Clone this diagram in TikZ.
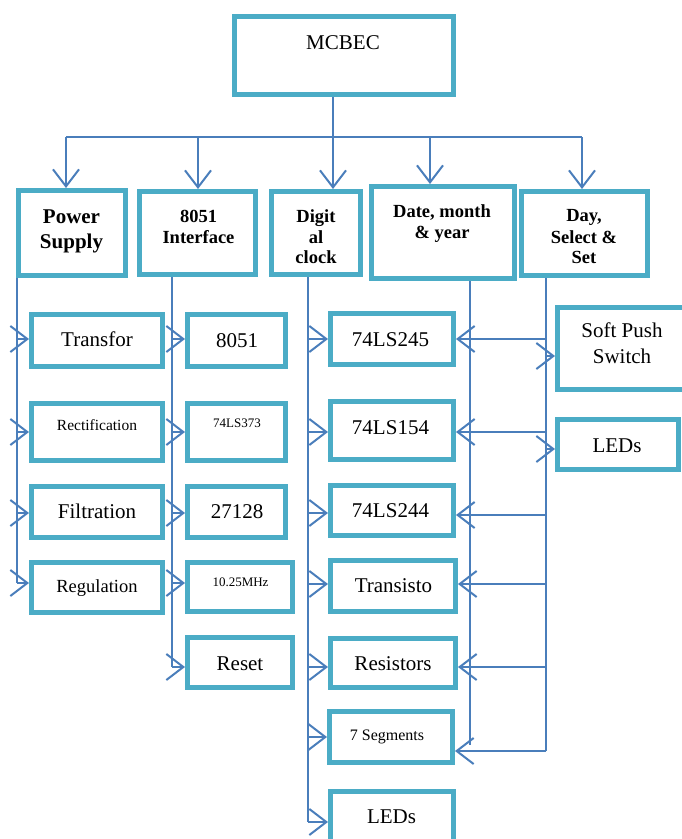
\documentclass[tikz,border=0pt]{standalone}
\usepackage{fontspec}
\setmainfont{Liberation Serif}
\usetikzlibrary{arrows.meta}
\definecolor{boxc}{HTML}{4BACC6}
\definecolor{linec}{HTML}{4A7EBB}
\tikzset{
  box/.style={draw=boxc, line width=5pt, inner sep=0pt},
  wire/.style={draw=linec, line width=2pt},
  arr/.style={wire, -{Straight Barb[length=17pt,width=26pt,line width=2pt]}},
  lbl/.style={anchor=base, inner sep=0pt, text=black},
  fA/.style={lbl, font=\fontsize{21}{24}\selectfont},
  fB/.style={lbl, font=\fontsize{21}{24}\selectfont\bfseries},
  fC/.style={lbl, font=\fontsize{18.5}{21}\selectfont\bfseries},
  fD/.style={lbl, font=\fontsize{18.5}{21}\selectfont},
  fE/.style={lbl, font=\fontsize{15.5}{18}\selectfont},
  fF/.style={lbl, font=\fontsize{13}{15}\selectfont},
  fG/.style={lbl, font=\fontsize{16}{18}\selectfont},
}
\newcommand\bx[5]{\node[box, minimum width={#4-#2-5}, minimum height={#5-#3-5}] (#1) at ({(#2+#4)/2},{(#3+#5)/2}) {};}
\begin{document}
\begin{tikzpicture}[x=1pt,y=-1pt]
\useasboundingbox (0,0) rectangle (681,839);
% ---- boxes
\bx{MCBEC}{232}{14}{456}{97}
\bx{Power}{16}{188}{128}{278}
\bx{Iface}{137}{189}{258}{277}
\bx{Clock}{269}{189}{363}{277}
\bx{Date}{369}{184}{517}{281}
\bx{Day}{519}{189}{650}{278}
% column 1
\bx{Transfor}{29}{312}{165}{369}
\bx{Rect}{29}{401}{165}{463}
\bx{Filt}{29}{484}{165}{540}
\bx{Regu}{29}{560}{165}{615}
% column 2
\bx{C8051}{185}{312}{288}{369}
\bx{C373}{185}{401}{288}{463}
\bx{C27128}{185}{484}{288}{540}
\bx{Osc}{185}{560}{295}{614}
\bx{Reset}{185}{635}{295}{690}
% column 3
\bx{L245}{328}{311}{456}{367}
\bx{L154}{328}{399}{456}{462}
\bx{L244}{328}{483}{456}{538}
\bx{Trans}{328}{558}{458}{614}
\bx{Resis}{328}{636}{458}{690}
\bx{Seg}{327}{709}{455}{765}
\bx{LedA}{328}{789}{456}{845}
% column 4
\bx{Soft}{555}{305}{690}{392}
\bx{LedB}{555}{417}{681}{472}
% ---- texts
\node[fA] (tM) at (343,49) {MCBEC};
\node[fB] (tP1) at (71.5,223) {Power};
\node[fB] (tP2) at (71.5,248) {Supply};
\node[fC] (tI1) at (198.5,222) {8051};
\node[fC] (tI2) at (198.5,243) {Interface};
\node[fC] (tC1) at (316,222) {Digit};
\node[fC] (tC2) at (316,243) {al};
\node[fC] (tC3) at (316,263) {clock};
\node[fC] (tD1) at (442,217) {Date, month};
\node[fC] (tD2) at (442,238) {\& year};
\node[fC] (tY1) at (584,221.5) {Day,};
\node[fC] (tY2) at (584,243) {Select \&};
\node[fC] (tY3) at (584,263) {Set};
\node[fA] (t1a) at (97,346.5) {Transfor};
\node[fE] (t1b) at (97,430) {Rectification};
\node[fA] (t1c) at (97,518) {Filtration};
\node[fD] (t1d) at (97,592) {Regulation};
\node[fA] (t2a) at (237,347) {8051};
\node[fF] (t2b) at (237,427) {74LS373};
\node[fA] (t2c) at (237,518) {27128};
\node[fF] (t2d) at (240.5,586) {10.25MHz};
\node[fA] (t2e) at (240,670) {Reset};
\node[fA] (t3a) at (390.5,346) {74LS245};
\node[fA] (t3b) at (390.5,434) {74LS154};
\node[fA] (t3c) at (390.5,517) {74LS244};
\node[fA] (t3d) at (393.5,592) {Transisto};
\node[fA] (t3e) at (393,670) {Resistors};
\node[fG] (t3f) at (387,740) {7 Segments};
\node[fA] (t3g) at (391.5,823) {LEDs};
\node[fA] (t4a) at (622,337) {Soft Push};
\node[fA] (t4b) at (622,363) {Switch};
\node[fA] (t4c) at (617,452) {LEDs};
% ---- top distribution
\coordinate (hub) at (333,137);
\draw[wire] (MCBEC.south -| hub) -- (hub);
\draw[wire] (66,137) -- (582,137);
\draw[arr] (66,137) -- (Power.north -| 66,0);
\draw[arr] (198,137) -- (Iface.north -| 198,0);
\draw[arr] (hub) -- (Clock.north -| hub);
\draw[arr] (430,137) -- (Date.north -| 430,0);
\draw[arr] (582,137) -- (Day.north -| 582,0);
% ---- power bus
\draw[wire] (Power.south -| 17,0) -- (17,583);
\draw[arr] (17,339) -- (Transfor.west |- 0,339);
\draw[arr] (17,432) -- (Rect.west |- 0,432);
\draw[arr] (17,513) -- (Filt.west |- 0,513);
\draw[arr] (17,583) -- (Regu.west |- 0,583);
% ---- interface bus
\draw[wire] (Iface.south -| 172,0) -- (172,667);
\draw[arr] (172,339) -- (C8051.west |- 0,339);
\draw[arr] (172,432) -- (C373.west |- 0,432);
\draw[arr] (172,513) -- (C27128.west |- 0,513);
\draw[arr] (172,583) -- (Osc.west |- 0,583);
\draw[arr] (172,667) -- (Reset.west |- 0,667);
% ---- clock bus
\draw[wire] (Clock.south -| 308,0) -- (308,822);
\draw[arr] (308,339) -- (L245.west |- 0,339);
\draw[arr] (308,432) -- (L154.west |- 0,432);
\draw[arr] (308,513) -- (L244.west |- 0,513);
\draw[arr] (308,584) -- (Trans.west |- 0,584);
\draw[arr] (308,667) -- (Resis.west |- 0,667);
\draw[arr] (308,737) -- (Seg.west |- 0,737);
\draw[arr] (308,822) -- (LedA.west |- 0,822);
% ---- date bus
\draw[wire] (Date.south -| 470,0) -- (470,745);
% ---- day bus
\draw[wire] (Day.south -| 546,0) -- (546,751);
\draw[arr] (546,356) -- (Soft.west |- 0,356);
\draw[arr] (546,449) -- (LedB.west |- 0,449);
\draw[arr] (546,339) -- (L245.east |- 0,339);
\draw[arr] (546,432) -- (L154.east |- 0,432);
\draw[arr] (546,515) -- (L244.east |- 0,515);
\draw[arr] (546,584) -- (Trans.east |- 0,584);
\draw[arr] (546,667) -- (Resis.east |- 0,667);
\draw[arr] (546,751) -- (Seg.east |- 0,751);
\end{tikzpicture}
\end{document}
